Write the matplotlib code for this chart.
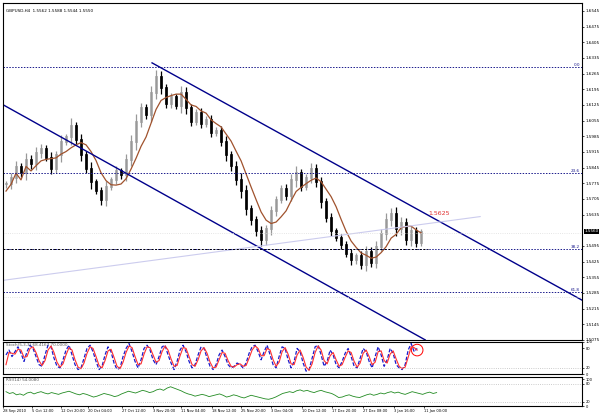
import matplotlib.pyplot as plt
import numpy as np

# GBPUSD H4, hand-read closes (one every ~5 px of the chart)
closes = [1.5770, 1.5800, 1.5850, 1.5820, 1.5880, 1.5860, 1.5910, 1.5930, 1.5890, 1.5840,
          1.5900, 1.5960, 1.5980, 1.6030, 1.5970, 1.5900, 1.5840, 1.5780, 1.5740, 1.5700,
          1.5760, 1.5790, 1.5830, 1.5810, 1.5880, 1.5960, 1.6050, 1.6110, 1.6080, 1.6180,
          1.6250, 1.6200, 1.6130, 1.6160, 1.6120, 1.6180, 1.6110, 1.6050, 1.6090, 1.6040,
          1.6060, 1.6000, 1.6010, 1.5960, 1.5900, 1.5850, 1.5790, 1.5740, 1.5660, 1.5610,
          1.5560, 1.5520, 1.5570, 1.5650, 1.5700, 1.5750, 1.5720, 1.5790, 1.5820, 1.5760,
          1.5800, 1.5840, 1.5780, 1.5690, 1.5620, 1.5560, 1.5530, 1.5500, 1.5460, 1.5430,
          1.5450, 1.5410, 1.5470, 1.5420, 1.5490, 1.5550, 1.5610, 1.5640, 1.5570, 1.5600,
          1.5520, 1.5560, 1.5510, 1.5556]
wicks = [0.003, 0.004, 0.005, 0.003, 0.006, 0.004, 0.005, 0.004, 0.003, 0.005,
         0.004, 0.006, 0.003, 0.007, 0.004, 0.005, 0.004, 0.006, 0.003, 0.004,
         0.005, 0.003, 0.004, 0.003, 0.005, 0.006, 0.007, 0.005, 0.004, 0.006,
         0.006, 0.005, 0.004, 0.004, 0.003, 0.006, 0.005, 0.004, 0.003, 0.004,
         0.003, 0.004, 0.003, 0.004, 0.005, 0.004, 0.005, 0.006, 0.005, 0.004,
         0.004, 0.005, 0.004, 0.005, 0.004, 0.003, 0.004, 0.005, 0.006, 0.004,
         0.003, 0.005, 0.004, 0.005, 0.004, 0.004, 0.003, 0.004, 0.003, 0.004,
         0.003, 0.004, 0.005, 0.004, 0.005, 0.004, 0.006, 0.005, 0.006, 0.005,
         0.004, 0.005, 0.004, 0.003]

stoch_main = [60, 75, 55, 70, 85, 65, 40, 70, 90, 80, 55, 30, 25, 60, 90, 85, 50, 25, 20, 45,
              75, 90, 60, 30, 15, 20, 50, 80, 90, 70, 40, 15, 25, 60, 85, 70, 35, 15, 20, 55,
              80, 95, 70, 40, 20, 45, 80, 90, 75, 45, 30, 55, 85, 90, 60, 35, 15, 40, 75, 90,
              70, 40, 20, 30, 60, 85, 80, 50, 25, 15, 30, 60, 75, 55, 30, 20, 25, 35, 30, 20,
              35, 65, 85, 90, 70, 45, 70, 90, 60, 30, 20, 55, 85, 80, 45, 20, 40, 80, 70, 35,
              10, 15, 50, 85, 90, 60, 25, 40, 75, 60, 30, 20, 40, 65, 80, 55, 25, 20, 50, 80,
              70, 40, 20, 55, 85, 60, 25, 45, 80, 65, 30, 20, 15, 30, 75, 95, 70, 80]
rsi = [52, 48, 50, 45, 47, 44, 49, 51, 47, 50, 52, 49, 47, 50, 48, 46, 49, 51, 53, 50,
       47, 45, 48, 46, 43, 40, 42, 45, 48, 46, 44, 41, 43, 47, 50, 53, 51, 49, 52, 55,
       53, 50, 52, 56, 58, 55, 60, 63, 60, 57, 54, 50, 47, 45, 42, 44, 46, 44, 41, 43,
       45, 47, 44, 40, 42, 45, 43, 40, 38, 41, 44, 42, 40, 38, 36, 35, 37, 40, 44, 48,
       50, 52, 50, 54, 56, 53, 55, 52, 50, 53, 55, 52, 50, 48, 44, 39, 40, 43, 45, 42,
       40, 39, 42, 45, 47, 44, 46, 49, 47, 50, 52, 49, 51, 48, 46, 49, 52, 50, 48, 46,
       49, 51, 48, 50]

fib_levels = [1.6295, 1.5822, 1.5483, 1.5287]
fib_names = ["0.0", "23.6", "38.2", "61.8"]
lower_chan = ([0, 422], [1.6126, 1.5075])
upper_chan = ([149, 579], [1.6313, 1.5252])
trend_line = ([0, 477], [1.5341, 1.5626])
price_ticks = [1.6545, 1.6475, 1.6405, 1.6335, 1.6265, 1.6195, 1.6125, 1.6055, 1.5985, 1.5915,
               1.5845, 1.5775, 1.5705, 1.5635, 1.5495, 1.5425, 1.5355, 1.5285,
               1.5215, 1.5145, 1.5075]
time_labels = ["28 Sep 2010", "5 Oct 12:00", "12 Oct 20:00", "20 Oct 04:00", "27 Oct 12:00",
               "3 Nov 20:00", "11 Nov 04:00", "18 Nov 12:00", "25 Nov 20:00", "3 Dec 04:00",
               "10 Dec 12:00", "17 Dec 20:00", "27 Dec 08:00", "3 Jan 16:00", "11 Jan 00:00"]
time_pos = [0, 29, 58, 85, 119, 150, 178, 209, 238, 268, 299, 329, 360, 391, 421]

FS = 3.0
XMAX = 579
fig = plt.figure(figsize=(5.99, 4.16), dpi=100)
ax = fig.add_axes([0.005, 0.183, 0.967, 0.81])
ax_s = fig.add_axes([0.005, 0.1, 0.967, 0.078])
ax_r = fig.add_axes([0.005, 0.024, 0.967, 0.07])

# candles
xs = np.arange(len(closes)) * 5 + 3
opens = [closes[0]] + closes[:-1]
for x, o, c, w in zip(xs, opens, closes, wicks):
    hi = max(o, c) + w * 0.5
    lo = min(o, c) - w * 0.5
    col = "#999999" if c >= o else "black"
    ax.vlines(x, lo, hi, color=col, lw=0.9)
    ax.bar(x, abs(c - o) + 0.0004, bottom=min(o, c), width=2.5,
           color="white" if c >= o else "black", edgecolor=col, lw=0.5)
ma = np.convolve(closes, np.ones(6) / 6, mode="full")[:len(closes)]
ma[:5] = np.array(closes[:5]) - 0.003
ax.plot(xs, ma, color="#a0522d", lw=0.9)

ax.plot(*lower_chan, color="#00008b", lw=1)
ax.plot(*upper_chan, color="#00008b", lw=1)
ax.plot(*trend_line, color="#ccccee", lw=0.8)
for lv, nm in zip(fib_levels, fib_names):
    ax.axhline(lv, color="#1a1a8c", ls=(0, (1.5, 1.5)), lw=0.7)
    ax.text(XMAX - 2, lv, nm, color="#1a1a8c", fontsize=FS, ha="right", va="bottom")
ax.plot([0, 425], [fib_levels[2], fib_levels[2]], color="black", ls=(0, (2, 2)), lw=0.7)
ax.axhline(1.5554, color="#dddddd", ls=":", lw=0.6)
ax.axhline(1.5265, color="#dddddd", ls=":", lw=0.6)
ax.text(425, 1.5628, "1.5625", color="#e03030", fontsize=4.5, va="bottom")
ax.text(3, 1.6545, "GBPUSD,H4  1.5562 1.5588 1.5544 1.5550", fontsize=FS, va="center")

ax.set_xlim(0, XMAX)
ax.set_ylim(1.5075, 1.6581)
ax.yaxis.tick_right()
ax.set_yticks(price_ticks)
ax.set_yticklabels([f"{p:.4f}" for p in price_ticks], fontsize=FS)
ax.text(XMAX + 2, 1.5560, "1.5560", fontsize=FS, color="white", va="center",
        bbox=dict(facecolor="black", pad=0.5, lw=0), clip_on=False)
ax.set_xticks([])

# stochastic
sx = np.arange(len(stoch_main)) * 3 + 3
sig = np.convolve(stoch_main, np.ones(2) / 2, mode="same")
ax_s.plot(sx, stoch_main, color="#1a1acc", lw=0.9, ls=(0, (3, 1.5)))
ax_s.plot(sx, sig, color="#ff3030", lw=0.8)
ax_s.axhline(20, color="#bbbbbb", ls=":", lw=0.6)
ax_s.scatter([sx[-1]], [stoch_main[-1] - 5], s=70, facecolor="none", edgecolor="red", lw=0.7)
ax_s.text(3, 92, "Stoch(5,3,3) 68.4167 70.0000", fontsize=FS, va="center", color="#555555")
ax_s.set_xlim(0, XMAX)
ax_s.set_ylim(0, 100)
ax_s.yaxis.tick_right()
ax_s.set_yticks([100, 80, 20, 0])
ax_s.set_yticklabels(["100", "80", "20", "0"], fontsize=2.6)
ax_s.set_xticks([])

# RSI
rx = np.arange(len(rsi)) * 3.5 + 3
ax_r.plot(rx, rsi, color="#228b22", lw=0.6)
ax_r.axhline(70, color="#bbbbbb", ls=":", lw=0.6)
ax_r.plot([135, XMAX], [30, 30], color="#bbbbbb", ls=":", lw=0.6)
ax_r.text(3, 78, "RSI(14) 54.0080", fontsize=FS, va="center", color="#555555")
ax_r.set_xlim(0, XMAX)
ax_r.set_ylim(20, 85)
ax_r.yaxis.tick_right()
ax_r.set_yticks([80, 70, 30, 20])
ax_r.set_yticklabels(["100", "80", "20", "0"], fontsize=2.6)
ax_r.set_xticks(time_pos)
ax_r.set_xticklabels(time_labels, fontsize=2.6, ha="left")

for a in (ax, ax_s, ax_r):
    a.tick_params(length=1.5, width=0.5, pad=1)
    for s in a.spines.values():
        s.set_linewidth(0.8)

fig.savefig("out.png", dpi=100)
